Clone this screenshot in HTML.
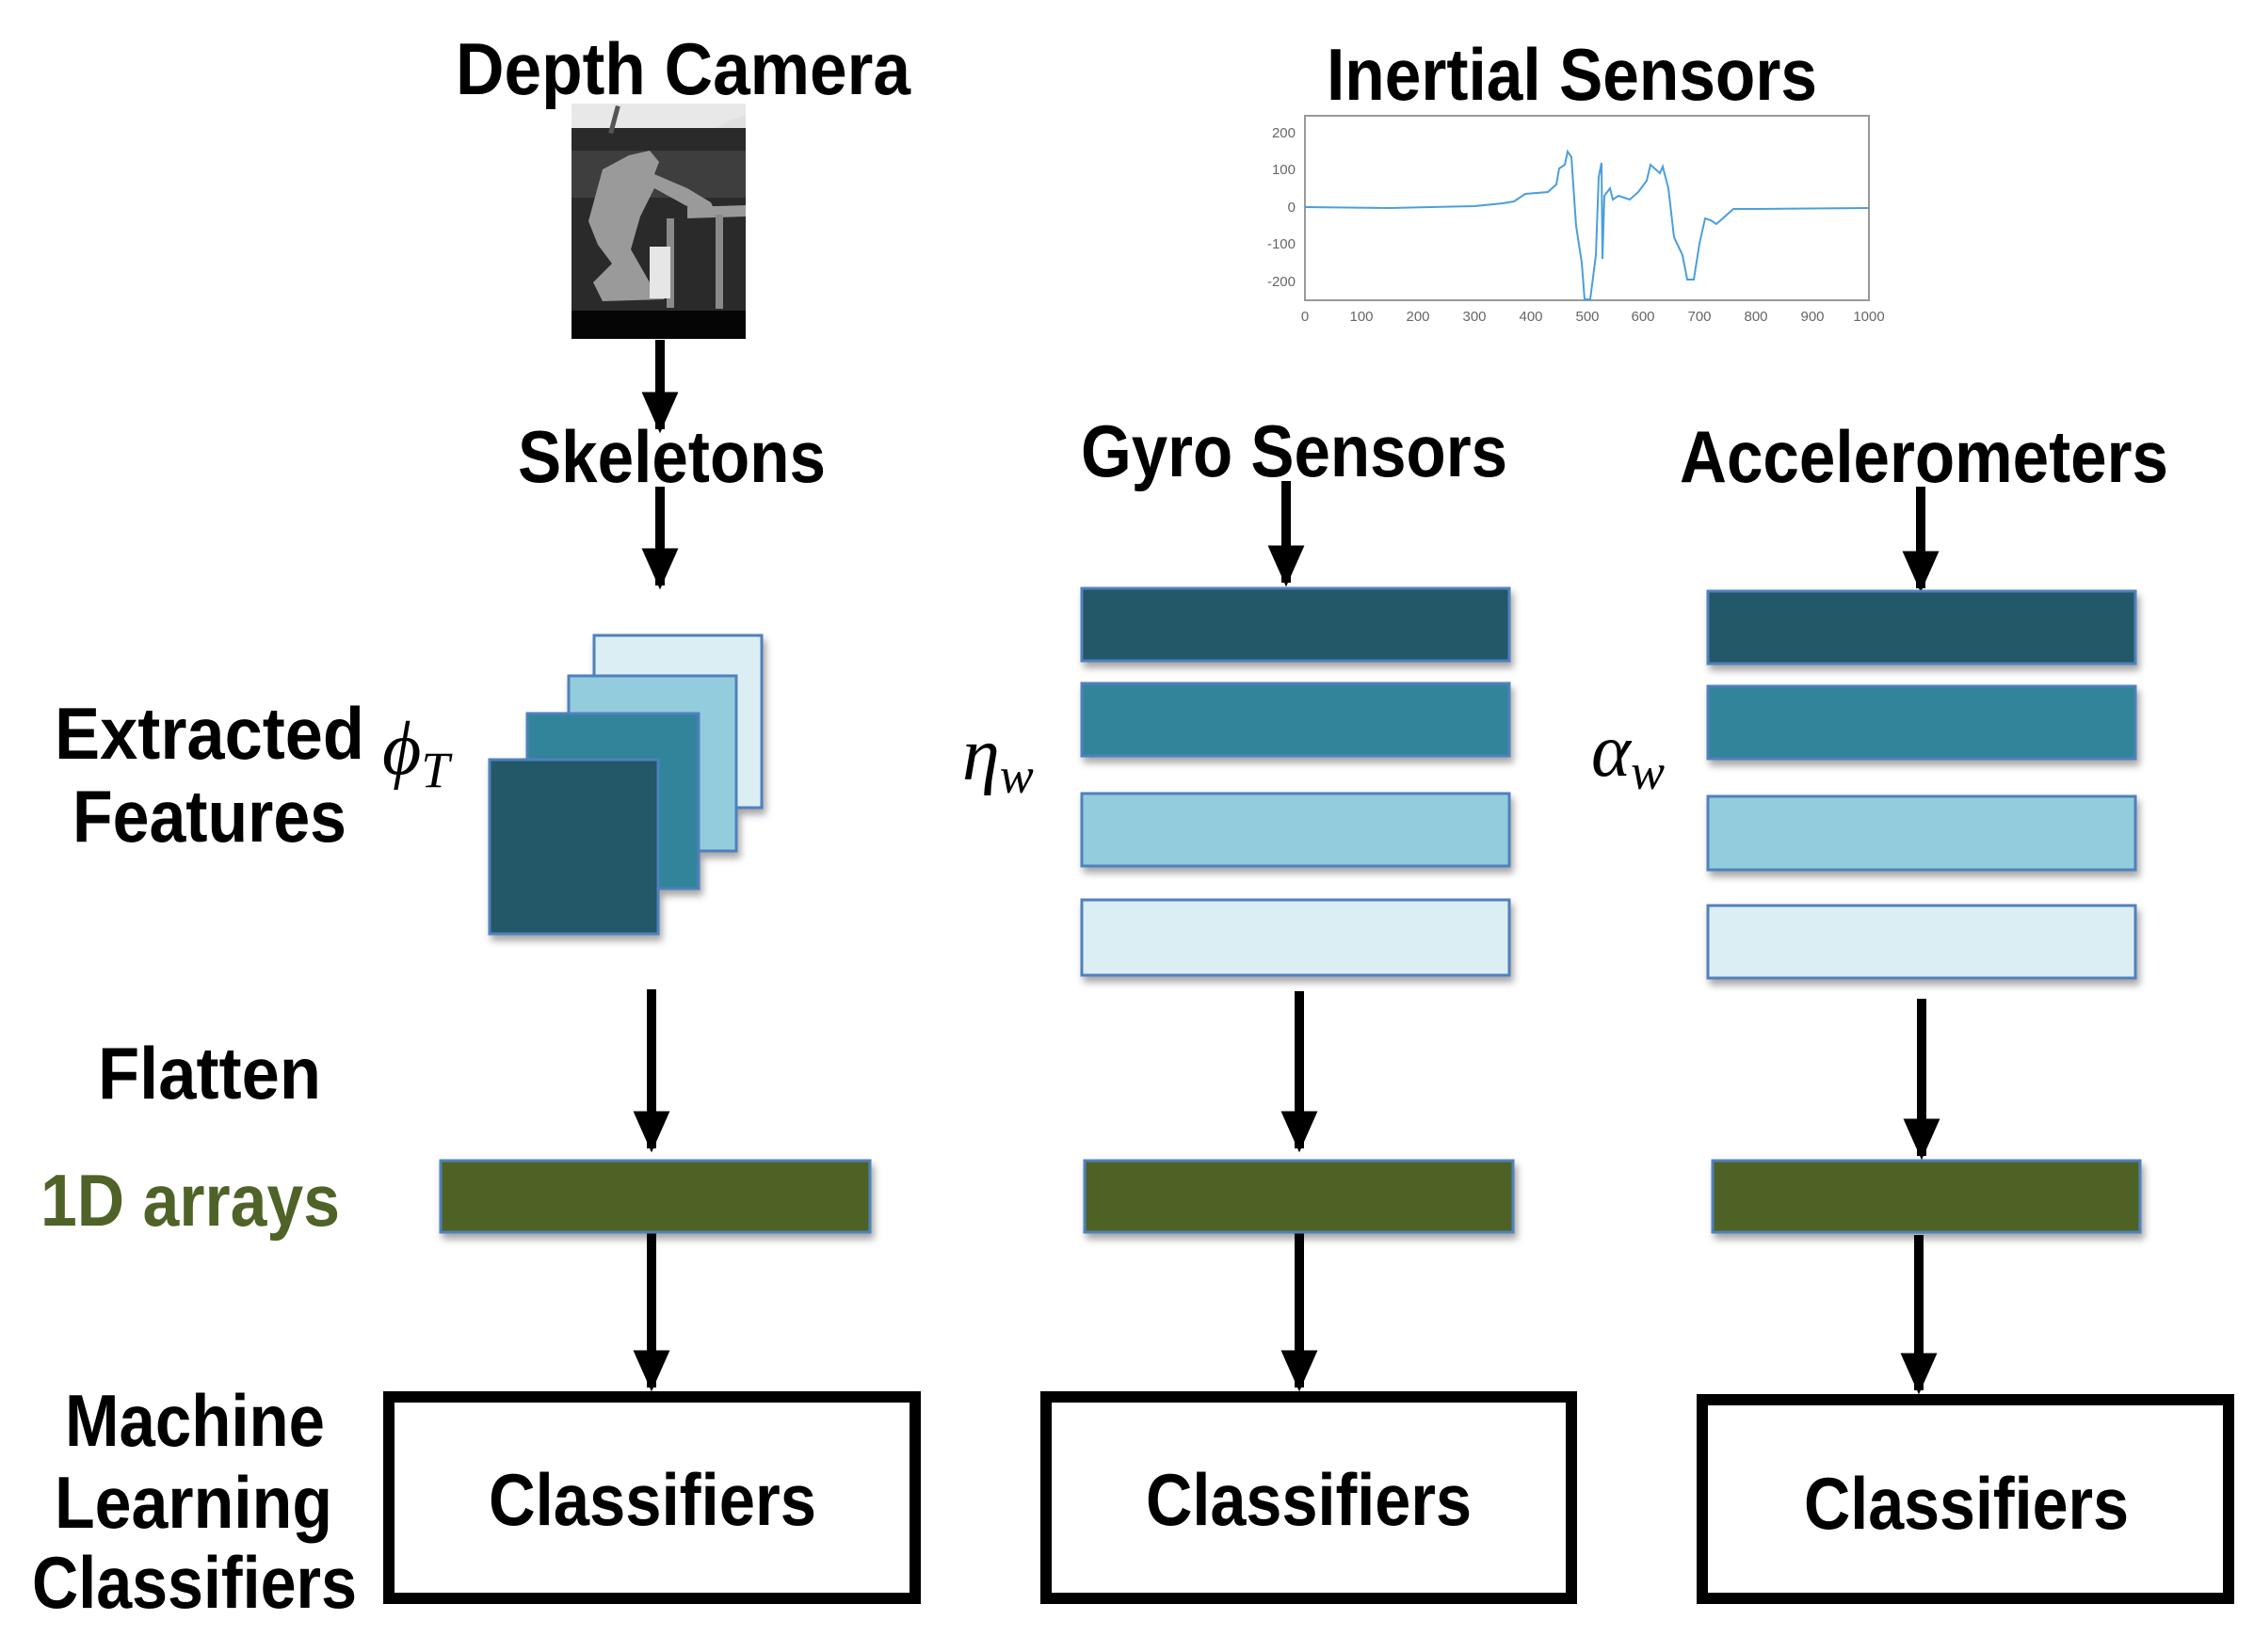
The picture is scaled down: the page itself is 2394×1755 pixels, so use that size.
<!DOCTYPE html>
<html><head><meta charset="utf-8"><style>
html,body{margin:0;padding:0;background:#fff;}
svg{display:block;}
</style></head><body>
<svg width="2394" height="1755" viewBox="0 0 2394 1755" xmlns="http://www.w3.org/2000/svg">
<defs>
<filter id="sh" x="-10%" y="-10%" width="130%" height="140%"><feDropShadow dx="3" dy="6" stdDeviation="4" flood-color="#000" flood-opacity="0.35"/></filter>
<marker id="ah" viewBox="0 0 10 10" refX="9" refY="5" markerWidth="4.4" markerHeight="3.9" orient="auto" markerUnits="strokeWidth" preserveAspectRatio="none"><path d="M0,0 L10,5 L0,10 z" fill="#000"/></marker>
</defs>
<g font-family="Liberation Sans, sans-serif" font-weight="bold" font-size="78" fill="#000" text-anchor="start">
<text x="484" y="100" textLength="483" lengthAdjust="spacingAndGlyphs">Depth Camera</text>
<text x="1409" y="106" textLength="521" lengthAdjust="spacingAndGlyphs">Inertial Sensors</text>
<text x="550" y="512" textLength="327" lengthAdjust="spacingAndGlyphs">Skeletons</text>
<text x="1148" y="506" textLength="453" lengthAdjust="spacingAndGlyphs">Gyro Sensors</text>
<text x="1784" y="512" textLength="519" lengthAdjust="spacingAndGlyphs">Accelerometers</text>
<text x="58" y="806" textLength="329" lengthAdjust="spacingAndGlyphs">Extracted</text>
<text x="77" y="894" textLength="291" lengthAdjust="spacingAndGlyphs">Features</text>
<text x="104" y="1167" textLength="237" lengthAdjust="spacingAndGlyphs">Flatten</text>
<text x="43" y="1302" textLength="318" lengthAdjust="spacingAndGlyphs" fill="#4f6228">1D arrays</text>
<text x="69" y="1536" textLength="276" lengthAdjust="spacingAndGlyphs">Machine</text>
<text x="58" y="1623" textLength="295" lengthAdjust="spacingAndGlyphs">Learning</text>
<text x="34" y="1708" textLength="345" lengthAdjust="spacingAndGlyphs">Classifiers</text>
<text x="519" y="1620" textLength="348" lengthAdjust="spacingAndGlyphs">Classifiers</text>
<text x="1217" y="1620" textLength="346" lengthAdjust="spacingAndGlyphs">Classifiers</text>
<text x="1916" y="1624" textLength="345" lengthAdjust="spacingAndGlyphs">Classifiers</text>
</g>
<g font-family="Liberation Serif, serif" font-style="italic" font-size="80" fill="#000">
<text x="406" y="822">ϕ<tspan font-size="54" dy="14">T</tspan></text>
<text x="1022" y="828">η<tspan font-size="54" dy="14">w</tspan></text>
<text x="1690" y="824">α<tspan font-size="54" dy="14">w</tspan></text>
</g>
<!-- depth image -->
<g>
<rect x="607" y="110" width="185" height="250" fill="#2a2a2a"/>
<rect x="607" y="110" width="185" height="26" fill="#e8e8e8"/>
<path d="M607,136 L760,136 L775,128 L792,122 L792,136 Z" fill="#e0e0e0"/>
<rect x="607" y="160" width="185" height="50" fill="#3e3e3e"/>
<rect x="607" y="330" width="185" height="30" fill="#050505"/>
<path d="M625,235 L640,180 L668,165 L690,160 L700,172 L695,185 L730,200 L755,215 L760,225 L735,222 L695,200 L680,230 L670,265 L690,300 L715,308 L705,318 L640,320 L630,300 L650,280 L635,260 Z" fill="#9a9a9a"/>
<path d="M730,220 L792,218 L792,230 L730,232 Z" fill="#9a9a9a"/>
<rect x="708" y="232" width="8" height="95" fill="#8a8a8a"/>
<rect x="760" y="228" width="8" height="100" fill="#8a8a8a"/>
<rect x="690" y="262" width="22" height="55" fill="#e6e6e6"/>
<rect x="650" y="112" width="5" height="30" fill="#555" transform="rotate(15 652 127)"/>
</g>
<!-- plot -->
<g font-family="Liberation Sans, sans-serif" font-size="15" fill="#666">
<rect x="1386" y="123" width="599" height="196" fill="#fff" stroke="#999" stroke-width="2"/>
<text x="1376" y="146" text-anchor="end">200</text>
<text x="1376" y="185" text-anchor="end">100</text>
<text x="1376" y="225" text-anchor="end">0</text>
<text x="1376" y="264" text-anchor="end">-100</text>
<text x="1376" y="304" text-anchor="end">-200</text>
<g text-anchor="middle">
<text x="1386" y="341">0</text><text x="1446" y="341">100</text><text x="1506" y="341">200</text><text x="1566" y="341">300</text><text x="1626" y="341">400</text><text x="1686" y="341">500</text><text x="1745" y="341">600</text><text x="1805" y="341">700</text><text x="1865" y="341">800</text><text x="1925" y="341">900</text><text x="1985" y="341">1000</text>
</g>
<polyline fill="none" stroke="#4a9fdc" stroke-width="2" points="1386,220 1476,221 1566,219 1596,216 1608,214 1620,206 1644,204 1653,196 1656,179 1662,175 1665,161 1669,167 1674,240 1680,279 1683,318 1689,318 1695,271 1698,188 1701,173 1702,275 1704,208 1710,200 1713,212 1719,208 1731,212 1740,204 1749,192 1753,175 1763,184 1766,177 1772,200 1778,252 1787,271 1792,297 1799,297 1805,259 1811,232 1817,234 1823,238 1841,222 1865,222 1985,221"/>
</g>
<!-- arrows -->
<g stroke="#000" stroke-width="10" marker-end="url(#ah)">
<line x1="701" y1="361" x2="701" y2="456"/>
<line x1="701" y1="517" x2="701" y2="622"/>
<line x1="1366" y1="511" x2="1366" y2="619"/>
<line x1="2040" y1="517" x2="2040" y2="625"/>
<line x1="692" y1="1051" x2="692" y2="1220"/>
<line x1="1380" y1="1053" x2="1380" y2="1220"/>
<line x1="2041" y1="1061" x2="2041" y2="1228"/>
<line x1="692" y1="1309" x2="692" y2="1474"/>
<line x1="1380" y1="1309" x2="1380" y2="1474"/>
<line x1="2038" y1="1312" x2="2038" y2="1477"/>
</g>
<!-- feature squares -->
<g stroke="#4f81bd" stroke-width="3" filter="url(#sh)">
<rect x="631" y="675" width="178" height="183" fill="#dbeef4"/>
<rect x="604" y="718" width="178" height="186" fill="#93cddd"/>
<rect x="560" y="758" width="182" height="186" fill="#31849b"/>
<rect x="520" y="807" width="179" height="185" fill="#215968"/>
<rect x="1149" y="625" width="454" height="77" fill="#215968"/>
<rect x="1149" y="726" width="454" height="77" fill="#31849b"/>
<rect x="1149" y="843" width="454" height="77" fill="#93cddd"/>
<rect x="1149" y="956" width="454" height="80" fill="#dbeef4"/>
<rect x="1814" y="628" width="454" height="77" fill="#215968"/>
<rect x="1814" y="729" width="454" height="77" fill="#31849b"/>
<rect x="1814" y="846" width="454" height="78" fill="#93cddd"/>
<rect x="1814" y="962" width="454" height="77" fill="#dbeef4"/>
<rect x="468" y="1233" width="456" height="76" fill="#4f6228"/>
<rect x="1152" y="1233" width="455" height="76" fill="#4f6228"/>
<rect x="1819" y="1233" width="454" height="76" fill="#4f6228"/>
</g>
<!-- classifier boxes -->
<g fill="none" stroke="#000" stroke-width="12">
<rect x="413" y="1484" width="559" height="214"/>
<rect x="1111" y="1484" width="558" height="214"/>
<rect x="1808" y="1487" width="559" height="211"/>
</g>
</svg>
</body></html>
